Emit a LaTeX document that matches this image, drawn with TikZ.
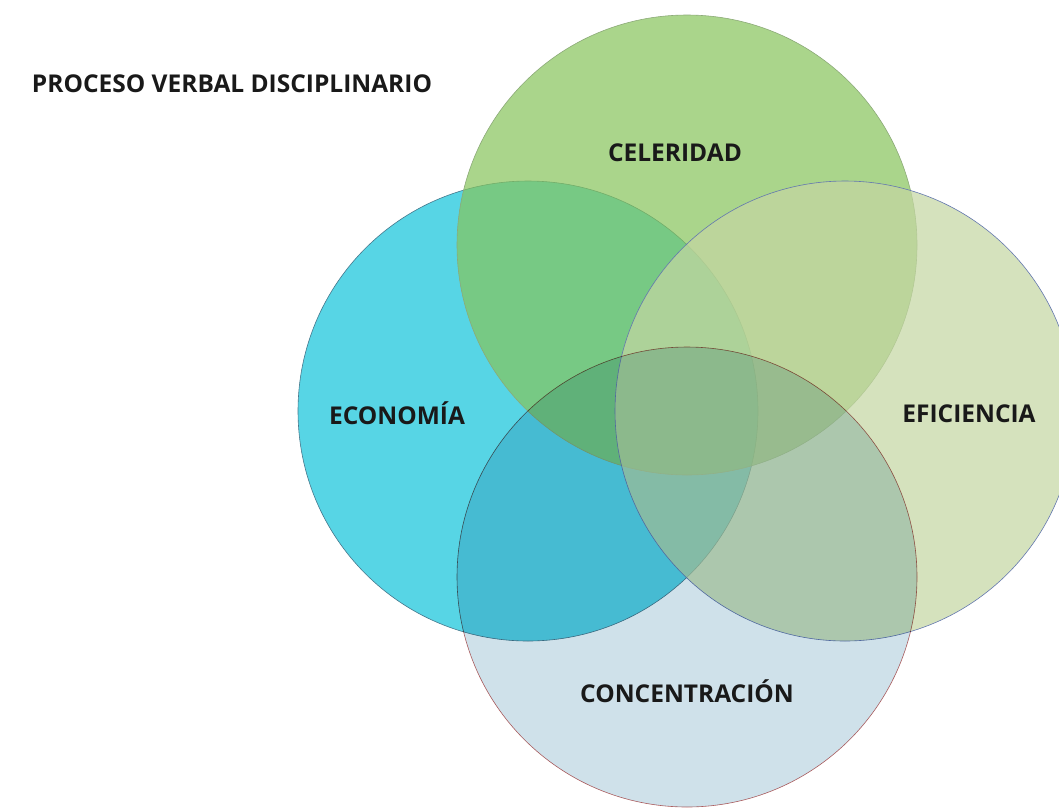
\documentclass[tikz,border=0pt]{standalone}
\usepackage{fontspec}
\setmainfont{Open Sans}
\usetikzlibrary{positioning}

\definecolor{celfill}{RGB}{134,196,91}
\definecolor{celline}{RGB}{140,170,120}
\definecolor{ecofill}{RGB}{16,196,219}
\definecolor{ecoline}{RGB}{70,120,140}
\definecolor{efffill}{RGB}{196,214,162}
\definecolor{effline}{RGB}{100,120,175}
\definecolor{confill}{RGB}{207,225,234}
\definecolor{conline}{RGB}{190,100,100}

\tikzset{
  venn/.style={circle, minimum size=460pt, inner sep=0pt, fill opacity=0.7, line width=0.6pt},
  lbl/.style={font=\fontsize{24.5}{28}\selectfont\bfseries, text=black!90, inner sep=0pt}
}

\begin{document}
\begin{tikzpicture}[x=1pt, y=-1pt]
  \useasboundingbox (0,0) rectangle (1059,807);
  \fill[white] (0,0) rectangle (1059,807);

  % circles, from back to front
  \node[venn, fill=ecofill, draw=ecoline] (eco) at (528,411) {};
  \node[venn, fill=celfill, draw=celline] (cel) at (687,245) {};
  \node[venn, fill=efffill, draw=effline] (eff) at (845,411) {};
  \begin{scope}[blend mode=multiply]
    \node[venn, fill opacity=1, fill=confill, draw=conline] (con) at (687,577) {};
  \end{scope}

  % labels
  \node[lbl] (titulo) at (232,84) {PROCESO VERBAL DISCIPLINARIO};
  \node[lbl] (celtxt) at (675,153) {CELERIDAD};
  \node[lbl] (ecotxt) at (397,413) {ECONOMÍA};
  \node[lbl] (efftxt) at (969,414) {EFICIENCIA};
  \node[lbl] (contxt) at (687,691) {CONCENTRACIÓN};
\end{tikzpicture}
\end{document}
